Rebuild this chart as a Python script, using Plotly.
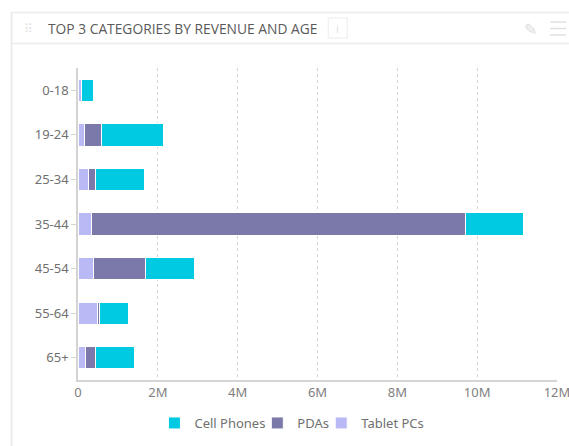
import plotly.graph_objects as go

# Revenue (millions) by age group for the three top categories
age_groups = ["0-18", "19-24", "25-34", "35-44", "45-54", "55-64", "65+"]
tablet_pcs = [0.08, 0.16, 0.27, 0.35, 0.38, 0.50, 0.19]
pdas = [0.0, 0.44, 0.16, 9.37, 1.32, 0.05, 0.24]
cell_phones = [0.30, 1.53, 1.24, 1.44, 1.23, 0.72, 0.99]

x_tickvals = [0, 2e6, 4e6, 6e6, 8e6, 10e6, 12e6]
x_ticktext = ["0", "2M", "4M", "6M", "8M", "10M", "12M"]

colors = {"Tablet PCs": "#b9b9f6", "PDAs": "#7a79a9", "Cell Phones": "#00c9e2"}

W, H = 569, 446
ml, mr, mt, mb = 77.5, 12, 68, 66

def px(xp):
    return (xp - ml) / (W - ml - mr)

def py(yp):
    return 1 - (yp - mt) / (H - mt - mb)

# each series gets its own legend box so entries sit at fixed spots
legend_slot = {"Cell Phones": ("legend", 175), "PDAs": ("legend2", 278),
               "Tablet PCs": ("legend3", 342)}

fig = go.Figure()
for name, vals in [("Tablet PCs", tablet_pcs), ("PDAs", pdas), ("Cell Phones", cell_phones)]:
    fig.add_trace(go.Bar(
        y=age_groups, x=[v * 1e6 for v in vals], name=name, orientation="h",
        marker=dict(color=colors[name], line=dict(color="white", width=1)),
        legend=legend_slot[name][0],
    ))

legend_common = dict(orientation="h", xanchor="left", y=py(423), yanchor="middle",
                     font=dict(size=13, color="#707070"), itemwidth=30,
                     bgcolor="rgba(0,0,0,0)", borderwidth=0)
legends = {}
for name, (key, cx) in legend_slot.items():
    legends[key] = dict(legend_common, x=px(cx - 21))

fig.update_layout(
    width=W, height=H,
    margin=dict(l=ml, r=mr, t=mt, b=mb, pad=0, autoexpand=False),
    paper_bgcolor="white", plot_bgcolor="white",
    barmode="stack", bargap=0.5,
    font=dict(family="Noto Sans, Open Sans, sans-serif", color="#707070", size=12),
    showlegend=True,
    xaxis=dict(range=[0, 12e6], tickvals=x_tickvals, ticktext=x_ticktext,
               showgrid=True, gridcolor="#d8d8d8", griddash="dot", gridwidth=1,
               showline=True, linecolor="#d4d4d4", linewidth=1.5, zeroline=False,
               ticks="", ticklabelstandoff=0, ticklabeloverflow="allow", automargin=False,
               tickfont=dict(size=13, color="#808080")),
    yaxis=dict(autorange="reversed", showgrid=False, showline=True, linecolor="#d4d4d4",
               linewidth=1.5, ticks="outside", ticklen=5, tickcolor="#d4d4d4",
               automargin=False, tickfont=dict(size=13, color="#707070"), zeroline=False),
    **legends,
)

shapes = []
# Card outline and header strip
shapes.append(dict(type="line", xref="paper", yref="paper", x0=px(11), x1=px(11),
                   y0=py(12), y1=py(446), line=dict(color="#ececec", width=2)))
shapes.append(dict(type="line", xref="paper", yref="paper", x0=px(11), x1=px(569),
                   y0=py(12.5), y1=py(12.5), line=dict(color="#ececec", width=1.5)))
shapes.append(dict(type="line", xref="paper", yref="paper", x0=px(11), x1=px(569),
                   y0=py(43.5), y1=py(43.5), line=dict(color="#ececec", width=1.5)))
# Info badge
shapes.append(dict(type="rect", xref="paper", yref="paper", x0=px(328), x1=px(347),
                   y0=py(38), y1=py(18), line=dict(color="#ececec", width=1)))
# Menu icon
for yy in (22, 28.5, 35):
    shapes.append(dict(type="line", xref="paper", yref="paper", x0=px(550), x1=px(566),
                       y0=py(yy), y1=py(yy), line=dict(color="#e0e0e0", width=1.5)))
fig.update_layout(shapes=shapes)

annotations = [
    dict(text="TOP 3 CATEGORIES BY REVENUE AND AGE", xref="paper", yref="paper",
         x=px(45), y=py(28.5), xanchor="left", yanchor="middle", showarrow=False,
         font=dict(family="Open Sans, Noto Sans, sans-serif", size=13.8, color="#5a5a5a")),
    dict(text="⠿", xref="paper", yref="paper", x=px(28), y=py(28.5), xanchor="center",
         yanchor="middle", showarrow=False, font=dict(size=12, color="#e4e4e4")),
    dict(text="i", xref="paper", yref="paper", x=px(337.5), y=py(28), xanchor="center",
         yanchor="middle", showarrow=False, font=dict(size=11, color="#e0e0e0")),
    dict(text="✎", xref="paper", yref="paper", x=px(530), y=py(29), xanchor="center",
         yanchor="middle", showarrow=False, font=dict(family="DejaVu Sans", size=16, color="#dcdcdc")),
]
fig.update_layout(annotations=annotations)

fig.write_html("out.html")
